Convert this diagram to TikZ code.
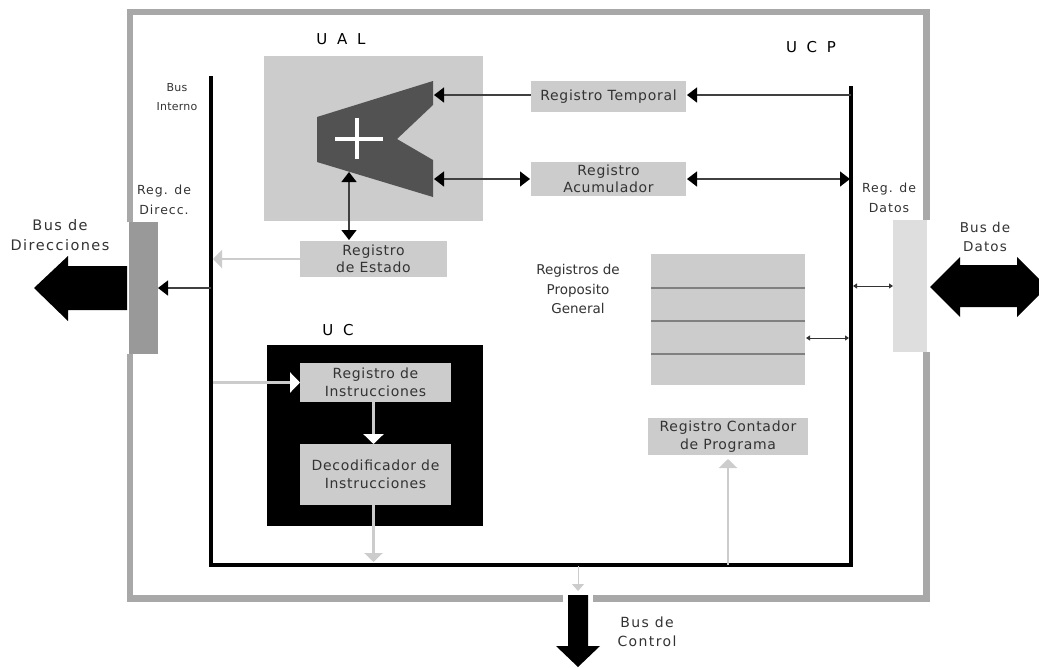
\documentclass[tikz,border=0pt]{standalone}
\usepackage{fontspec}
\setmainfont{DejaVu Sans}
\usetikzlibrary{arrows.meta}
\definecolor{framegray}{HTML}{A8A8A8}
\definecolor{boxgray}{HTML}{CCCCCC}
\definecolor{txt}{HTML}{333333}
\newcommand{\ftxt}[2]{\fontsize{#1}{19.5}\selectfont\addfontfeature{LetterSpace=#2}}
\tikzset{
  x=1pt,y=-1pt,
  box/.style={fill=#1,draw=none,inner sep=0pt,outer sep=0pt,align=center,text=txt,font=\ftxt{14}{5}},
  box/.default=boxgray,
  lbl/.style={align=center,text=txt,inner sep=0pt,font=\ftxt{13.5}{0}},
  title/.style={text=black,inner sep=0pt,font=\ftxt{15}{65}},
  busline/.style={line width=3.2pt,black},
  framel/.style={line width=6.5pt,framegray},
  dk/.style={line width=1.3pt,draw=black!75,
    {Triangle[length=10pt,width=15pt,black]}-{Triangle[length=10pt,width=15pt,black]}},
  dkone/.style={line width=1.3pt,draw=black!75,-{Triangle[length=10pt,width=15pt,black]}},
  thin2/.style={line width=1pt,draw=black!80,
    {Triangle[length=4pt,width=5pt]}-{Triangle[length=4pt,width=5pt]}},
  lt/.style={line width=2.5pt,draw=boxgray,-{Triangle[length=9pt,width=18pt,boxgray]}},
  wh/.style={line width=2.5pt,draw=#1,-{Triangle[length=10pt,width=20pt,white]}},
  wh/.default=boxgray
}
\begin{document}
\begin{tikzpicture}
\useasboundingbox (0,0) rectangle (1039,667);
\fill[white] (0,0) rectangle (1039,667);
% frame
\coordinate (fTL) at (130,12);
\coordinate (fTR) at (926.5,12);
\coordinate (fBL) at (130,598.5);
\coordinate (fBR) at (926.5,598.5);
\coordinate (fGapL) at (563,598.5);
\coordinate (fGapR) at (593,598.5);
\node[box=black!40,minimum width=29pt,minimum height=132pt] (regdir) at (143.5,288) {};
\node[box=black!13,minimum width=34pt,minimum height=132pt] (regdat) at (910,286) {};
\draw[framel,line cap=butt] (fGapL) -- (fBL) -- (regdir.south -| fBL);
\draw[framel,line cap=butt] (regdir.north -| fBL) -- (fTL) -- (fTR) -- (regdat.north -| fTR);
\draw[framel,line cap=butt] (regdat.south -| fTR) -- (fBR) -- (fGapR);
% bus
\coordinate (bTL) at (211,76);
\coordinate (bBL) at (211,565);
\coordinate (bBR) at (851,565);
\coordinate (bTR) at (851,86);
\draw[busline,line join=miter] (bTL) -- (bBL) -- (bBR) -- (bTR);
% UAL
\node[box,minimum width=219pt,minimum height=165pt] (ual) at (373.5,138.5) {};
\fill[black!68] (317,117) -- (433,81) -- (433,105) -- (397,139) -- (433,160) -- (433,197) -- (317,162) -- cycle;
\coordinate (adderT) at (433,95);
\coordinate (adderB) at (433,179);
\coordinate (adderS) at (349,172);
\fill[white] (335,137) rectangle (383,141);
\fill[white] (355,118) rectangle (359,159);
% boxes
\node[box,minimum width=155pt,minimum height=31pt] (temp) at (608.5,96.5) {Registro Temporal};
\node[box,minimum width=155pt,minimum height=34pt] (acum) at (608.5,179) {Registro\\[-3pt]Acumulador};
\node[box,minimum width=147pt,minimum height=36pt] (estado) at (373.5,259) {Registro\\[-3pt]de Estado};
\node[box,minimum width=154pt,minimum height=131pt] (gen) at (728,319.5) {};
\draw[black!50,line width=1.2pt] (gen.west |- 0,288) -- (gen.east |- 0,288);
\draw[black!50,line width=1.2pt] (gen.west |- 0,321) -- (gen.east |- 0,321);
\draw[black!50,line width=1.2pt] (gen.west |- 0,354) -- (gen.east |- 0,354);
\node[box,minimum width=160pt,minimum height=37pt] (cont) at (728,436.5) {Registro Contador\\[-1pt]de Programa};
% UC
\node[box=black,minimum width=216pt,minimum height=181pt] (uc) at (375,435.5) {};
\node[box,minimum width=151pt,minimum height=39pt] (instr) at (375.5,382.5) {Registro de\\[-1pt]Instrucciones};
\node[box,minimum width=151pt,minimum height=61pt] (deco) at (375.5,474.5) {Decodificador de\\[-1pt]Instrucciones};
% arrows
\draw[dkone] (temp.west |- adderT) -- ([xshift=1pt]adderT);
\draw[dkone] (bTR |- adderT) -- ([xshift=1pt]temp.east |- adderT);
\draw[dk] ([xshift=1pt]adderB) -- ([xshift=-1pt]acum.west |- adderB);
\draw[dk] ([xshift=1pt]acum.east |- adderB) -- ([xshift=-1pt]bTR |- adderB);
\draw[dk] (adderS) -- ([yshift=1pt]adderS |- estado.north);
\draw[lt] (estado.west) -- ([xshift=2pt]bTL |- estado.west);
\draw[dkone] (bTL |- regdir.center) -- (regdir.east |- regdir.center);
\draw[thin2] ([xshift=2pt]bTR |- regdat.center) -- (regdat.west |- regdat.center);
\draw[thin2] ([xshift=1pt]gen.east |- 0,338) -- ([xshift=-2pt]bTR |- 0,338);
\draw[wh] ([xshift=2pt]bTL |- instr.west) -- (instr.west);
\draw[wh] ([xshift=-2pt]instr.south) -- ([xshift=-2pt]deco.north);
\draw[lt] ([xshift=-2pt]deco.south) -- ([xshift=-2pt,yshift=3pt]deco.south |- bBL);
\draw[lt] (cont.south |- bBL) -- ([yshift=-4pt]cont.south);
\coordinate (ctrlTop) at (578,566);
\coordinate (ctrlEnd) at (578,591);
\draw[line width=1pt,draw=boxgray,-{Triangle[length=7pt,width=12pt,boxgray]}] (ctrlTop) -- (ctrlEnd);
% big arrows
\fill[black] (127,266) -- (68,266) -- (68,256) -- (34,288) -- (68,321) -- (68,310) -- (127,310) -- cycle;
\fill[black] (930,287) -- (960,257) -- (960,265) -- (1017,265) -- (1017,257) -- (1047,287) -- (1017,317) -- (1017,307) -- (960,307) -- (960,317) -- cycle;
\fill[black] (568,595) -- (588,595) -- (588,646) -- (600,646) -- (578,667) -- (556,646) -- (568,646) -- cycle;
% labels
\node[title] (tUAL) at (341,39) {UAL};
\node[title] (tUCP) at (811,47) {UCP};
\node[title] (tUC) at (338,330) {UC};
\node[lbl,font=\ftxt{11}{2}] (lBI) at (177,97) {Bus\\Interno};
\node[lbl,font=\ftxt{12.5}{8}] (lRD) at (164,200) {Reg. de\\Direcc.};
\node[lbl,font=\ftxt{12.5}{8}] (lRDa) at (889,198) {Reg. de\\Datos};
\node[lbl,font=\ftxt{14.5}{10}] (lBD) at (60,235) {Bus de\\Direcciones};
\node[lbl,font=\ftxt{13.5}{8}] (lBDa) at (985,237) {Bus de\\Datos};
\node[lbl] (lRP) at (578,289) {Registros de\\Proposito\\General};
\node[lbl,font=\ftxt{14}{10}] (lBC) at (647,632) {Bus de\\Control};
\end{tikzpicture}
\end{document}
